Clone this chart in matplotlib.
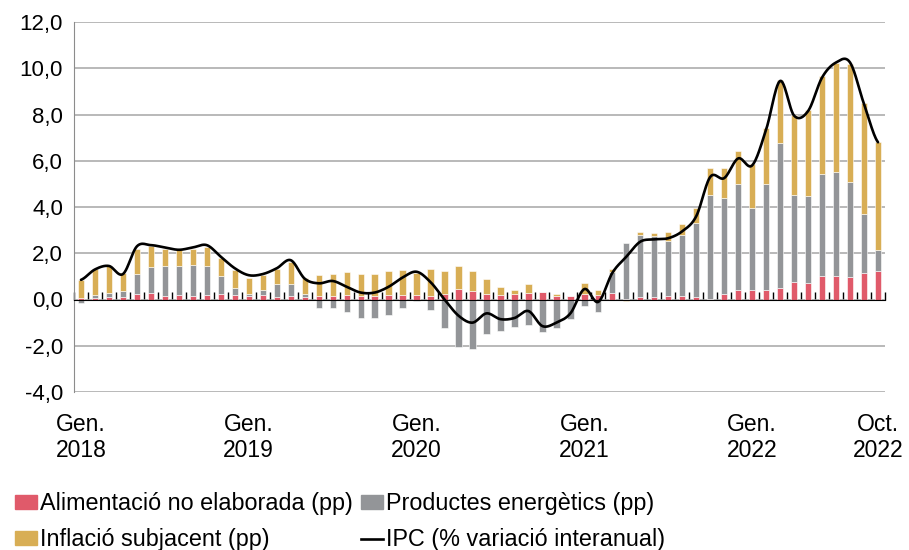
import numpy as np
import matplotlib
matplotlib.use("Agg")
import matplotlib.pyplot as plt
from matplotlib.patches import Patch
from matplotlib.lines import Line2D

plt.rcParams["font.family"] = ["Liberation Sans", "DejaVu Sans"]

# Gen. 2018 - Oct. 2022, one value per month
alimentacio = [
    0.07, 0.05, 0.10, 0.10, 0.22, 0.28, 0.17, 0.19, 0.14, 0.19, 0.22, 0.19,
    0.14, 0.19, 0.09, 0.14, 0.09, 0.14, 0.14, 0.19, 0.14, 0.14, 0.19, 0.19,
    0.19, 0.14, 0.25, 0.46, 0.38, 0.25, 0.20, 0.25, 0.30, 0.32, 0.16, 0.14,
    0.25, 0.18, 0.26, 0.02, 0.09, 0.11, 0.16, 0.16, 0.09, 0.03, 0.25, 0.42,
    0.43, 0.43, 0.51, 0.77, 0.71, 1.01, 1.01, 0.97, 1.14, 1.23,
]
energetics = [
    -0.17, 0.15, 0.20, 0.26, 0.90, 1.12, 1.26, 1.24, 1.34, 1.24, 0.79, 0.29,
    0.09, 0.24, 0.60, 0.54, 0.13, -0.36, -0.36, -0.55, -0.78, -0.82, -0.67, -0.36,
    -0.06, -0.46, -1.22, -2.07, -2.15, -1.51, -1.37, -1.21, -1.11, -1.40, -1.25, -0.86,
    -0.30, -0.55, 0.93, 2.42, 2.72, 2.63, 2.35, 2.65, 3.23, 4.50, 4.15, 4.58,
    3.54, 4.58, 6.26, 3.77, 3.76, 4.43, 4.50, 4.12, 2.54, 0.92,
]
subjacent = [
    0.77, 1.10, 1.15, 0.77, 1.07, 0.90, 0.76, 0.70, 0.71, 0.86, 0.80, 0.78,
    0.71, 0.62, 0.62, 0.95, 0.72, 0.91, 0.98, 0.99, 0.98, 0.98, 1.05, 1.08,
    0.94, 1.16, 0.97, 0.99, 0.87, 0.62, 0.35, 0.15, 0.35, 0.00, 0.09, 0.00,
    0.46, 0.25, 0.11, -0.07, 0.13, 0.14, 0.41, 0.47, 0.63, 1.17, 1.30, 1.44,
    1.88, 2.39, 2.73, 3.43, 3.71, 4.23, 4.71, 5.11, 4.82, 4.65,
]
ipc = [
    0.85, 1.30, 1.45, 1.10, 2.30, 2.35, 2.25, 2.15, 2.25, 2.35, 1.85, 1.35,
    1.05, 1.10, 1.35, 1.70, 0.90, 0.70, 0.80, 0.55, 0.30, 0.30, 0.55, 0.95,
    1.20, 0.75, 0.00, -0.70, -1.00, -0.60, -0.85, -0.80, -0.50, -1.15, -1.00, -0.60,
    0.45, -0.10, 1.15, 1.85, 2.50, 2.60, 2.65, 2.95, 3.60, 5.30, 5.25, 6.10,
    5.80, 7.35, 9.45, 7.95, 8.15, 9.60, 10.25, 10.25, 8.45, 6.80,
]

tick_pos = [0, 12, 24, 36, 48, 57]
tick_labels = ["Gen.\n2018", "Gen.\n2019", "Gen.\n2020", "Gen.\n2021", "Gen.\n2022", "Oct.\n2022"]

noms = ["Alimentació no elaborada (pp)", "Productes energètics (pp)",
        "Inflació subjacent (pp)", "IPC (% variació interanual)"]
colors = ["#E05A6A", "#939598", "#D8AE55"]


def smooth(y, steps=24):
    # corba suavitzada tipus Excel (Catmull-Rom)
    p = np.concatenate([[y[0]], y, [y[-1]]])
    xs, ys = [], []
    t = np.linspace(0, 1, steps, endpoint=False)
    for i in range(len(y) - 1):
        p0, p1, p2, p3 = p[i], p[i + 1], p[i + 2], p[i + 3]
        yy = 0.5 * (2 * p1 + (-p0 + p2) * t + (2 * p0 - 5 * p1 + 4 * p2 - p3) * t ** 2
                    + (-p0 + 3 * p1 - 3 * p2 + p3) * t ** 3)
        xs.append(i + t)
        ys.append(yy)
    xs.append([len(y) - 1])
    ys.append([y[-1]])
    return np.concatenate(xs), np.concatenate(ys)


fig = plt.figure(figsize=(9.09, 5.5), dpi=100)
ax = fig.add_axes([74 / 909, 1 - 392 / 550, 811 / 909, 370 / 550])

x = np.arange(len(ipc))
pos = np.zeros(len(x))
neg = np.zeros(len(x))
for vals, col in zip([alimentacio, energetics, subjacent], colors):
    v = np.array(vals)
    bottom = np.where(v >= 0, pos, neg)
    ax.bar(x, v, bottom=bottom, width=0.45, color=col, edgecolor="white", linewidth=0.4, zorder=2)
    pos += np.clip(v, 0, None)
    neg += np.clip(v, None, 0)

sx, sy = smooth(np.array(ipc))
ax.plot(sx, sy, color="black", lw=1.9, zorder=4, solid_capstyle="round")

ax.set_xlim(-0.5, len(x) - 0.5)
ax.set_ylim(-4, 12)
yt = np.arange(-4, 13, 2)
ax.set_yticks(yt)
ax.set_yticklabels([f"{v:.1f}".replace(".", ",") for v in yt], fontsize=16)
ax.tick_params(axis="y", length=0, pad=8)
ax.yaxis.grid(True, color="#A6A6A6", lw=1.1)
ax.set_axisbelow(True)

ax.spines["top"].set_visible(False)
ax.spines["right"].set_visible(False)
ax.spines["left"].set_color("#8C8C8C")
ax.spines["bottom"].set_position(("data", 0))
ax.spines["bottom"].set_color("black")
ax.spines["bottom"].set_zorder(3)
ax.set_xticks(np.arange(-0.5, len(x), 1))
ax.tick_params(axis="x", direction="in", length=6, width=1, color="black", labelbottom=False)

for p, lab in zip(tick_pos, tick_labels):
    ax.annotate(lab, xy=(p, 0), xycoords=("data", "axes fraction"), xytext=(0, -15),
                textcoords="offset points", ha="center", va="top", fontsize=16.5, linespacing=1.2)

handles = [Patch(color=colors[0]), Patch(color=colors[2]), Patch(color=colors[1]),
           Line2D([], [], color="black", lw=1.9)]
labels = [noms[0], noms[2], noms[1], noms[3]]
fig.legend(handles, labels, loc="upper left", bbox_to_anchor=(15 / 909, 1 - 492 / 550), ncol=2,
           frameon=False, fontsize=16.8, handlelength=0.95, handleheight=0.55, handletextpad=0.13,
           columnspacing=0.35, labelspacing=0.57, borderpad=0, borderaxespad=0)

fig.savefig("out.png", dpi=100)
